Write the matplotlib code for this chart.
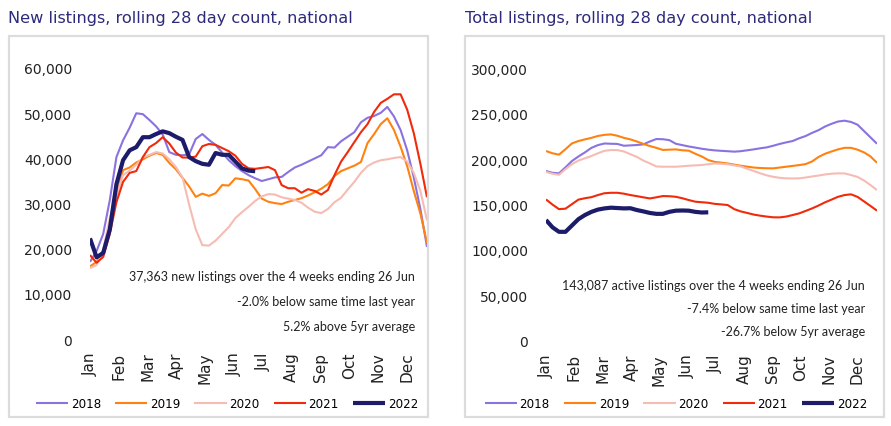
import numpy as np
import matplotlib
matplotlib.use("Agg")
import matplotlib.pyplot as plt
from matplotlib.patches import Rectangle
from matplotlib.ticker import FuncFormatter

# -------- datos (semanal, semana 0 = inicio de enero) --------
months = ["Jan", "Feb", "Mar", "Apr", "May", "Jun", "Jul", "Aug", "Sep", "Oct", "Nov", "Dec"]
years = ["2018", "2019", "2020", "2021", "2022"]

new_2018 = [17300, 19700, 23500, 31000, 40500, 44200, 47000, 50200, 50000, 48700, 47300, 45500, 41600,
            41000, 40900, 41100, 44500, 45600, 44300, 43200, 41500, 39800, 38500, 37400, 36500, 35800,
            35200, 35600, 36000, 36100, 37200, 38200, 38800, 39500, 40200, 40900, 42700, 42600, 44000,
            45000, 46000, 48200, 49200, 49600, 50300, 51600, 49500, 46500, 42000, 36000, 29000, 20600]
new_2019 = [16300, 17300, 19200, 25000, 32000, 37600, 38200, 39300, 40000, 40800, 41400, 41000, 39200,
            37800, 35900, 34000, 31700, 32400, 31900, 32500, 34300, 34200, 35800, 35600, 35300, 33400,
            31300, 30600, 30300, 30100, 30600, 31000, 31400, 32000, 32700, 33500, 34500, 36300, 37400,
            38000, 38600, 39400, 43600, 45600, 47800, 49100, 46500, 42800, 38500, 33000, 28000, 21500]
new_2020 = [15900, 16600, 20000, 27000, 32000, 36500, 37500, 38800, 40400, 41000, 41600, 41300, 40000,
            38300, 36000, 30000, 24500, 21000, 20900, 22000, 23500, 25000, 27000, 28300, 29500, 30800,
            31800, 32300, 32200, 31600, 31300, 31000, 30400, 29300, 28400, 28100, 29000, 30500, 31500,
            33300, 35000, 37000, 38500, 39300, 39800, 40000, 40300, 40500, 39500, 37000, 33000, 26500]
new_2021 = [18800, 17100, 18400, 23500, 30500, 35000, 37000, 37400, 40500, 42700, 43600, 44900, 43500,
            41500, 40400, 40400, 40600, 42900, 43400, 43200, 42500, 41800, 40800, 39000, 38000, 37900,
            38100, 38300, 37600, 34300, 33600, 33600, 32600, 33400, 33000, 32200, 33200, 36500, 39500,
            41600, 43800, 46000, 47800, 50500, 52500, 53400, 54400, 54400, 51000, 45800, 39000, 31600]
new_2022 = [22500, 18300, 19300, 24500, 34500, 39800, 42000, 42700, 44900, 44900, 45600, 46200, 45800,
            45000, 44300, 40500, 39600, 39000, 38800, 41400, 41000, 41000, 39500, 38000, 37500, 37363]

tot_2018 = [188000, 186000, 185400, 192000, 199000, 204000, 208500, 213500, 216500, 218300, 218000,
            217800, 215800, 216200, 216600, 217300, 220500, 223200, 223000, 222000, 218000, 216500,
            215000, 213800, 212500, 211500, 210700, 210200, 209800, 209300, 209800, 210800, 211800,
            213000, 214000, 215800, 217800, 219500, 221000, 224000, 226500, 230000, 233000, 237000,
            240000, 242500, 243400, 242000, 239000, 232000, 225000, 218000]
tot_2019 = [210000, 207500, 206000, 212000, 218400, 221000, 222800, 224500, 226600, 227800, 228300,
            226800, 224500, 222800, 220500, 217800, 215500, 213500, 211200, 211500, 211800, 210800,
            210400, 207000, 204000, 200000, 198000, 197200, 196300, 195000, 193800, 192800, 191800,
            191300, 191000, 190900, 191800, 192700, 193600, 194500, 195600, 198500, 203500, 207000,
            209500, 211800, 213500, 213500, 211500, 208500, 204000, 197000]
tot_2020 = [187000, 185000, 183800, 190000, 195500, 199500, 202000, 204500, 207500, 210200, 211100,
            211000, 209500, 206500, 203500, 199500, 196400, 193000, 192700, 192700, 192700, 193200,
            193800, 194200, 194600, 195500, 196300, 196000, 195400, 194200, 192900, 190500, 188000,
            185500, 183200, 181600, 180500, 179900, 179800, 179900, 180800, 182000, 183000, 184200,
            185000, 185400, 185300, 183500, 181500, 177500, 172500, 167000]
tot_2021 = [156700, 151000, 146000, 146500, 151500, 156500, 158000, 159200, 161500, 163500, 164000,
            164000, 163000, 161500, 160300, 159000, 157800, 159000, 160400, 160200, 159600, 158000,
            156000, 154200, 153600, 153000, 151800, 151200, 150500, 146000, 143500, 141800, 140000,
            138800, 137800, 137000, 136900, 137800, 139500, 141300, 144000, 146800, 150000, 153500,
            156500, 159600, 161500, 162300, 159500, 154500, 149500, 144300]
tot_2022 = [134000, 126000, 121000, 121000, 128000, 135000, 139500, 143000, 145500, 146800, 147600,
            147200, 146800, 147000, 145000, 143500, 141800, 140800, 140800, 143000, 144300, 144500,
            144300, 143000, 142300, 142500]

notes_new = ["37,363 new listings over the 4 weeks ending 26 Jun",
             "-2.0% below same time last year",
             "5.2% above 5yr average"]
notes_tot = ["143,087 active listings over the 4 weeks ending 26 Jun",
             "-7.4% below same time last year",
             "-26.7% below 5yr average"]

colores = ["#8a72e0", "#ff8210", "#f6bcb4", "#f02a0a", "#1c1c6b"]
grosor = [1.5, 1.5, 1.5, 1.5, 3.0]
navy_titulo = "#2d2a7c"

W, H = 891, 426
fig = plt.figure(figsize=(W / 100, H / 100), dpi=100)


def fx(px):
    return px / W


def fy(py):
    return 1 - py / H


def panel(left_px, right_px, bottom_px, top_px, series, ymax, ystep, title, title_x, box, notes, notes_x, notes_y, leg_cx):
    # marco gris
    fig.patches.append(Rectangle((fx(box[0]), fy(box[3])), fx(box[2] - box[0]), (box[3] - box[1]) / H,
                                 transform=fig.transFigure, fill=False, edgecolor="#dcdcdc", lw=1.6))
    fig.text(fx(title_x), fy(18), title, color=navy_titulo, fontsize=11.6, va="center", ha="left")

    ax = fig.add_axes([fx(left_px), fy(bottom_px), fx(right_px - left_px), (bottom_px - top_px) / H])
    ax.set_facecolor("none")
    for i, s in enumerate(series):
        ax.plot(np.arange(len(s)), s, color=colores[i], lw=grosor[i], label=years[i],
                solid_capstyle="butt")
    ax.set_xlim(0, 51)
    ax.set_ylim(0, ymax)
    ax.set_yticks(np.arange(0, ymax + 1, ystep))
    ax.yaxis.set_major_formatter(FuncFormatter(lambda v, p: f"{int(v):,}"))
    ax.set_xticks(np.arange(12) * 4.36)
    ax.set_xticklabels(months, rotation=90)
    ax.tick_params(axis="both", length=0, labelsize=10, colors="#222222")
    ax.tick_params(axis="x", pad=9, labelsize=11)
    ax.tick_params(axis="y", pad=13)
    for sp in ax.spines.values():
        sp.set_visible(False)

    for t, yy in zip(notes, notes_y):
        fig.text(fx(notes_x), fy(yy), t, ha="right", va="center", fontsize=9.0, family="Lato",
                 color="#222222")

    fig.legend(handles=ax.get_lines(), labels=years, loc="center", ncol=5,
               bbox_to_anchor=(fx(leg_cx), fy(404)), frameon=False, fontsize=8.6,
               handlelength=2.7, handletextpad=0.2, columnspacing=1.2, borderaxespad=0)
    return ax


panel(90, 427, 340, 69, [new_2018, new_2019, new_2020, new_2021, new_2022], 60000, 10000,
      "New listings, rolling 28 day count, national", 8, (9, 36, 428, 417),
      notes_new, 415, [277, 302, 327], 227)
panel(546, 877, 341.7, 69.3, [tot_2018, tot_2019, tot_2020, tot_2021, tot_2022], 300000, 50000,
      "Total listings, rolling 28 day count, national", 465, (465, 36, 884, 417),
      notes_tot, 865, [286, 309, 332], 676)

fig.savefig("out.png", dpi=100)
